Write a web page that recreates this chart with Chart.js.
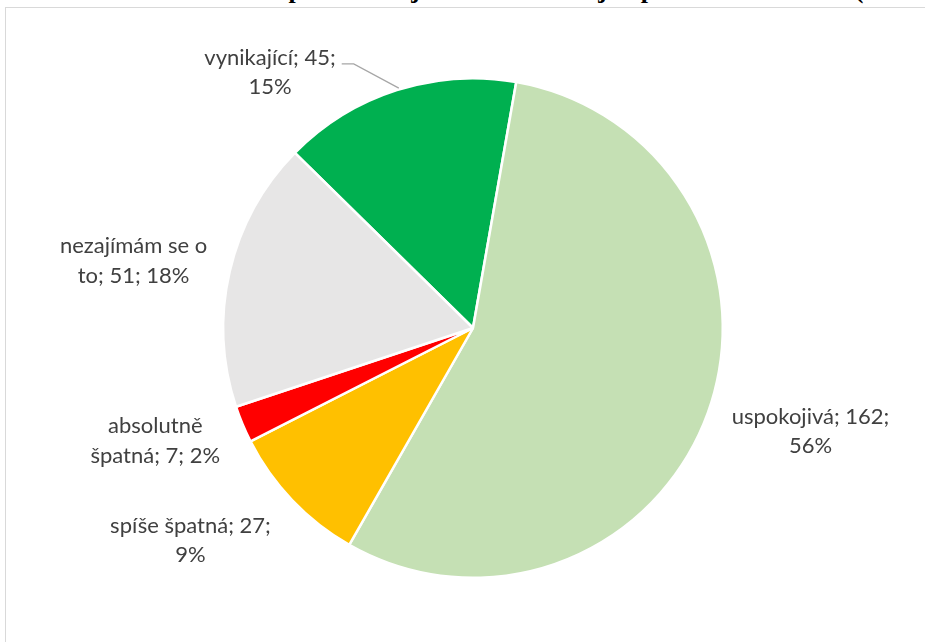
<!DOCTYPE html>
<html>
<head>
<meta charset="utf-8">
<script src="https://cdn.jsdelivr.net/npm/chart.js@4.4.1/dist/chart.umd.min.js"></script>
<style>
  html, body { margin: 0; padding: 0; background: #fff; overflow: hidden; }
  #wrap { position: relative; width: 925px; height: 642px; overflow: hidden; }
  #title { position: absolute; left: -10px; top: -23px; white-space: nowrap;
           font-family: "Liberation Serif", "Times New Roman", serif; font-weight: bold;
           font-size: 26px; line-height: 26px; color: #000; }
  #frame { position: absolute; left: 5px; top: 7px; width: 1000px; height: 700px;
           border-left: 1px solid #d9d9d9; border-top: 1px solid #d9d9d9; }
  canvas { position: absolute; left: 0; top: 0; }
</style>
</head>
<body>
<div id="wrap">
  <div id="title">Graf 5: Hodnocení úrovně péče o veřejnou zeleň a veřejná prostranství v obci (n = 292)</div>
  <div id="frame"></div>
  <canvas id="c" width="925" height="642"></canvas>
</div>
<script>
// ---- data ----
const categories = ['vynikající', 'uspokojivá', 'spíše špatná', 'absolutně špatná', 'nezajímám se o to'];
const counts = [45, 162, 27, 7, 51];
const percents = [15, 56, 9, 2, 18];
const colors = ['#00B050', '#C5E0B4', '#FFC000', '#FF0000', '#E7E6E6'];

// ---- label layout (not data) ----
const labelFont = '22px Lato, "Open Sans", sans-serif';
const lineHeight = 29.5;
const labelPad = 20;
// number of words on the first line of each label
const firstLineWords = [2, 2, 3, 1, 3];
const nudges = [[-55, 1.5], [5, 12], [-7, 26], [-4, 9], [-3, -6]];

const labelPlugin = {
  id: 'outLabels',
  afterDatasetsDraw(chart) {
    const ctx = chart.ctx;
    const meta = chart.getDatasetMeta(0);
    ctx.save();
    ctx.font = labelFont;
    ctx.fillStyle = '#404040';
    ctx.textBaseline = 'middle';
    meta.data.forEach((arc, i) => {
      const p = arc.getProps(['x', 'y', 'startAngle', 'endAngle', 'outerRadius'], true);
      const mid = (p.startAngle + p.endAngle) / 2;
      const cx = Math.cos(mid), sy = Math.sin(mid);
      const ax = p.x + cx * (p.outerRadius + labelPad) + nudges[i][0];
      const ay = p.y + sy * (p.outerRadius + labelPad) + nudges[i][1];
      const words = (categories[i] + '; ' + counts[i] + '; ' + percents[i] + '%').split(' ');
      const lines = [words.slice(0, firstLineWords[i]).join(' '), words.slice(firstLineWords[i]).join(' ')];
      const widths = lines.map(l => ctx.measureText(l).width);
      const blockW = Math.max(...widths);
      const left = cx < 0 ? ax - blockW : ax;
      const centerX = left + blockW / 2;
      const top = ay - lineHeight * lines.length / 2;
      ctx.textAlign = 'center';
      lines.forEach((l, k) => ctx.fillText(l, centerX, top + lineHeight * (k + 0.5)));
      // leader line for labels pushed away from their slice
      if (i === 0) {
        const ex = p.x + cx * p.outerRadius;
        const ey = p.y + sy * p.outerRadius;
        const sx = centerX + widths[0] / 2 + 6;
        const ly = top + lineHeight * 0.5 + 6;
        ctx.strokeStyle = '#a6a6a6';
        ctx.lineWidth = 1.2;
        ctx.beginPath();
        ctx.moveTo(sx, ly);
        ctx.lineTo(sx + 12, ly);
        ctx.lineTo(ex + 2, ey - 2);
        ctx.stroke();
      }
    });
    ctx.restore();
  }
};

new Chart(document.getElementById('c'), {
  type: 'pie',
  data: {
    labels: categories,
    datasets: [{
      data: counts,
      backgroundColor: colors,
      borderColor: '#ffffff',
      borderWidth: 2.5
    }]
  },
  options: {
    responsive: false,
    animation: false,
    rotation: -45.5,
    layout: { padding: { left: 222, right: 201, top: 77, bottom: 63 } },
    plugins: {
      legend: { display: false },
      tooltip: { enabled: false },
      title: { display: false }
    }
  },
  plugins: [labelPlugin]
});
</script>
</body>
</html>
